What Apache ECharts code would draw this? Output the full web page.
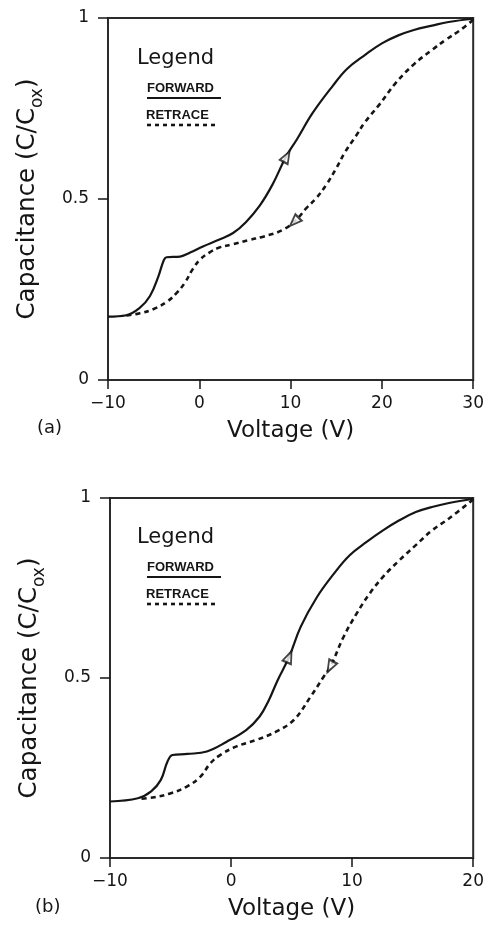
<!DOCTYPE html>
<html>
<head>
<meta charset="utf-8">
<script src="https://cdn.jsdelivr.net/npm/echarts@6/dist/echarts.min.js"></script>
<style>
html,body{margin:0;padding:0;background:#fff;}
#chart{width:487px;height:928px;}
</style>
</head>
<body>
<div id="chart"></div>
<script>
// Panel (a)
const fwdA_V = [-10, -8, -6.5, -5.4, -4.5, -3.9, -3.6, -2.1, -1.0, 0.4, 2.2, 3.7, 5.1, 6.6, 8.0, 9.5, 10.7, 12.4, 14.6, 16.2, 18.2, 20.0, 21.8, 23.5, 25.5, 27.3, 30];
const fwdA_C = [0.175, 0.179, 0.200, 0.232, 0.285, 0.330, 0.339, 0.341, 0.352, 0.369, 0.388, 0.406, 0.436, 0.481, 0.539, 0.617, 0.665, 0.737, 0.812, 0.860, 0.899, 0.930, 0.952, 0.967, 0.979, 0.989, 0.998];
const retA_V = [30, 28.5, 27, 25.5, 23.5, 21.5, 19.7, 18.2, 17.1, 16.0, 15.0, 13.9, 12.8, 11.7, 10.6, 9.1, 7.0, 5.5, 3.7, 2.2, 1.1, 0.1, -0.7, -1.6, -2.5, -3.5, -5, -6.6, -8];
const retA_C = [0.995, 0.965, 0.940, 0.912, 0.872, 0.820, 0.760, 0.714, 0.672, 0.631, 0.585, 0.539, 0.502, 0.474, 0.442, 0.414, 0.396, 0.387, 0.375, 0.366, 0.352, 0.333, 0.307, 0.268, 0.240, 0.217, 0.196, 0.184, 0.178];
const arrA_V = [9.57, 10.4];
const arrA_C = [0.617, 0.437];

// Panel (b)
const fwdB_V = [-10, -7.7, -6.6, -5.8, -5.25, -4.84, -3.6, -2.0, -0.36, 1.27, 2.36, 3.1, 3.85, 4.8, 5.75, 7.1, 8.5, 9.8, 11.2, 12.55, 13.9, 15.26, 16.6, 18.0, 20];
const fwdB_C = [0.157, 0.166, 0.185, 0.217, 0.268, 0.286, 0.289, 0.296, 0.323, 0.356, 0.393, 0.437, 0.494, 0.559, 0.642, 0.725, 0.790, 0.841, 0.878, 0.910, 0.938, 0.961, 0.975, 0.986, 0.998];
const retB_V = [20, 18.0, 16.6, 15.26, 13.9, 12.55, 11.46, 10.37, 9.29, 8.2, 7.66, 6.57, 5.2, 3.72, 2.09, 0.46, -0.9, -1.71, -2.53, -3.62, -4.97, -6.33, -7.7];
const retB_C = [0.996, 0.943, 0.910, 0.869, 0.827, 0.781, 0.735, 0.679, 0.614, 0.531, 0.504, 0.448, 0.384, 0.351, 0.328, 0.310, 0.286, 0.263, 0.226, 0.199, 0.180, 0.169, 0.164];
const arrB_V = [4.8, 8.2];
const arrB_C = [0.559, 0.531];

const xTicksA = [-10, 30];
const xTicksB = [-10, 20];
const yTicks = [0, 1];

const xLabel = 'Voltage (V)';
const yLabel = '{m|Capacitance (C/C}{s|ox}{m|)}';
const legendTitle = 'Legend';
const legendNames = ['FORWARD', 'RETRACE'];
const panelTags = ['(a)', '(b)'];

const zip = (a, b) => a.map((v, i) => [v, b[i]]);
const FONT = '"DejaVu Sans", sans-serif';
const INK = '#151515';

const chart = echarts.init(document.getElementById('chart'), null, {renderer: 'canvas'});

function xAxis(gi, ticks) {
  return {
    type: 'value', gridIndex: gi, min: ticks[0], max: ticks[1], interval: 10,
    name: xLabel, nameLocation: 'middle', nameGap: 40,
    nameTextStyle: {fontFamily: FONT, fontSize: 23, color: INK},
    axisLine: {show: true, onZero: false, lineStyle: {color: '#2a2a2a', width: 2}},
    axisTick: {show: true, length: 9, lineStyle: {color: INK, width: 1.5}},
    axisLabel: {fontFamily: FONT, fontSize: 17, color: INK, margin: 15,
      formatter: v => (v < 0 ? '\u2212' + Math.abs(v) : String(v))},
    splitLine: {show: false}
  };
}
function yAxis(gi) {
  return {
    type: 'value', gridIndex: gi, min: yTicks[0], max: yTicks[1], interval: 0.5,
    name: yLabel, nameLocation: 'middle', nameGap: 62, nameRotate: 90,
    nameTextStyle: {fontFamily: FONT, color: INK,
      rich: {m: {fontFamily: FONT, fontSize: 24.5, color: INK, verticalAlign: 'top'},
             s: {fontFamily: FONT, fontSize: 17, color: INK, verticalAlign: 'top', padding: [14, 0, 0, 0]}}},
    axisLine: {show: true, onZero: false, lineStyle: {color: '#2a2a2a', width: 2}},
    axisTick: {show: true, length: 10, lineStyle: {color: INK, width: 1.5}},
    axisLabel: {fontFamily: FONT, fontSize: 17, color: INK, margin: 19},
    splitLine: {show: false}
  };
}
function lineSeries(gi, data, dashed) {
  return {
    type: 'line', xAxisIndex: gi, yAxisIndex: gi, data: data,
    smooth: 0.4, showSymbol: false, symbol: 'none',
    lineStyle: dashed ? {color: INK, width: 2.6, type: [5, 4]} : {color: INK, width: 2.2},
    z: 3, animation: false
  };
}
function arrowSeries(gi, data, rots) {
  return {
    type: 'scatter', xAxisIndex: gi, yAxisIndex: gi,
    data: data.map((d, i) => ({value: d, symbolRotate: rots[i]})),
    symbol: 'triangle', symbolSize: [9, 12],
    itemStyle: {color: '#fff', borderColor: INK, borderWidth: 2},
    z: 5, animation: false
  };
}

function legendGraphics(top) {
  return [
    {type: 'text', left: 137, top: top, style: {text: legendTitle, fontFamily: FONT, fontSize: 21, fill: INK}},
    {type: 'text', left: 147, top: top + 34, style: {text: legendNames[0], fontFamily: '"Liberation Sans", sans-serif', fontWeight: 'bold', fontSize: 13, fill: INK}},
    {type: 'line', shape: {x1: 147, y1: top + 50, x2: 221, y2: top + 50}, style: {stroke: INK, lineWidth: 2}},
    {type: 'text', left: 146, top: top + 61, style: {text: legendNames[1], fontFamily: '"Liberation Sans", sans-serif', fontWeight: 'bold', fontSize: 13, fill: INK}},
    {type: 'line', shape: {x1: 147, y1: top + 77, x2: 219, y2: top + 77}, style: {stroke: INK, lineWidth: 2.6, lineDash: [4, 4]}}
  ];
}

const option = {
  backgroundColor: '#fff',
  animation: false,
  grid: [
    {left: 108, top: 18, width: 367, height: 362, show: true, borderColor: '#2a2a2a', borderWidth: 2, backgroundColor: 'transparent'},
    {left: 110, top: 498, width: 368, height: 360, show: true, borderColor: '#2a2a2a', borderWidth: 2, backgroundColor: 'transparent'}
  ],
  xAxis: [xAxis(0, xTicksA), xAxis(1, xTicksB)],
  yAxis: [yAxis(0), yAxis(1)],
  series: [
    lineSeries(0, zip(fwdA_V, fwdA_C), false),
    lineSeries(0, zip(retA_V, retA_C), true),
    arrowSeries(0, zip(arrA_V, arrA_C), [-29, 135]),
    lineSeries(1, zip(fwdB_V, fwdB_C), false),
    lineSeries(1, zip(retB_V, retB_C), true),
    arrowSeries(1, zip(arrB_V, arrB_C), [-23, 152])
  ],
  graphic: [
    ...legendGraphics(48),
    ...legendGraphics(527),
    {type: 'text', left: 37, top: 419, style: {text: panelTags[0], fontFamily: FONT, fontSize: 18, fill: INK}},
    {type: 'text', left: 35, top: 898, style: {text: panelTags[1], fontFamily: FONT, fontSize: 18, fill: INK}}
  ]
};
chart.setOption(option);
</script>
</body>
</html>
